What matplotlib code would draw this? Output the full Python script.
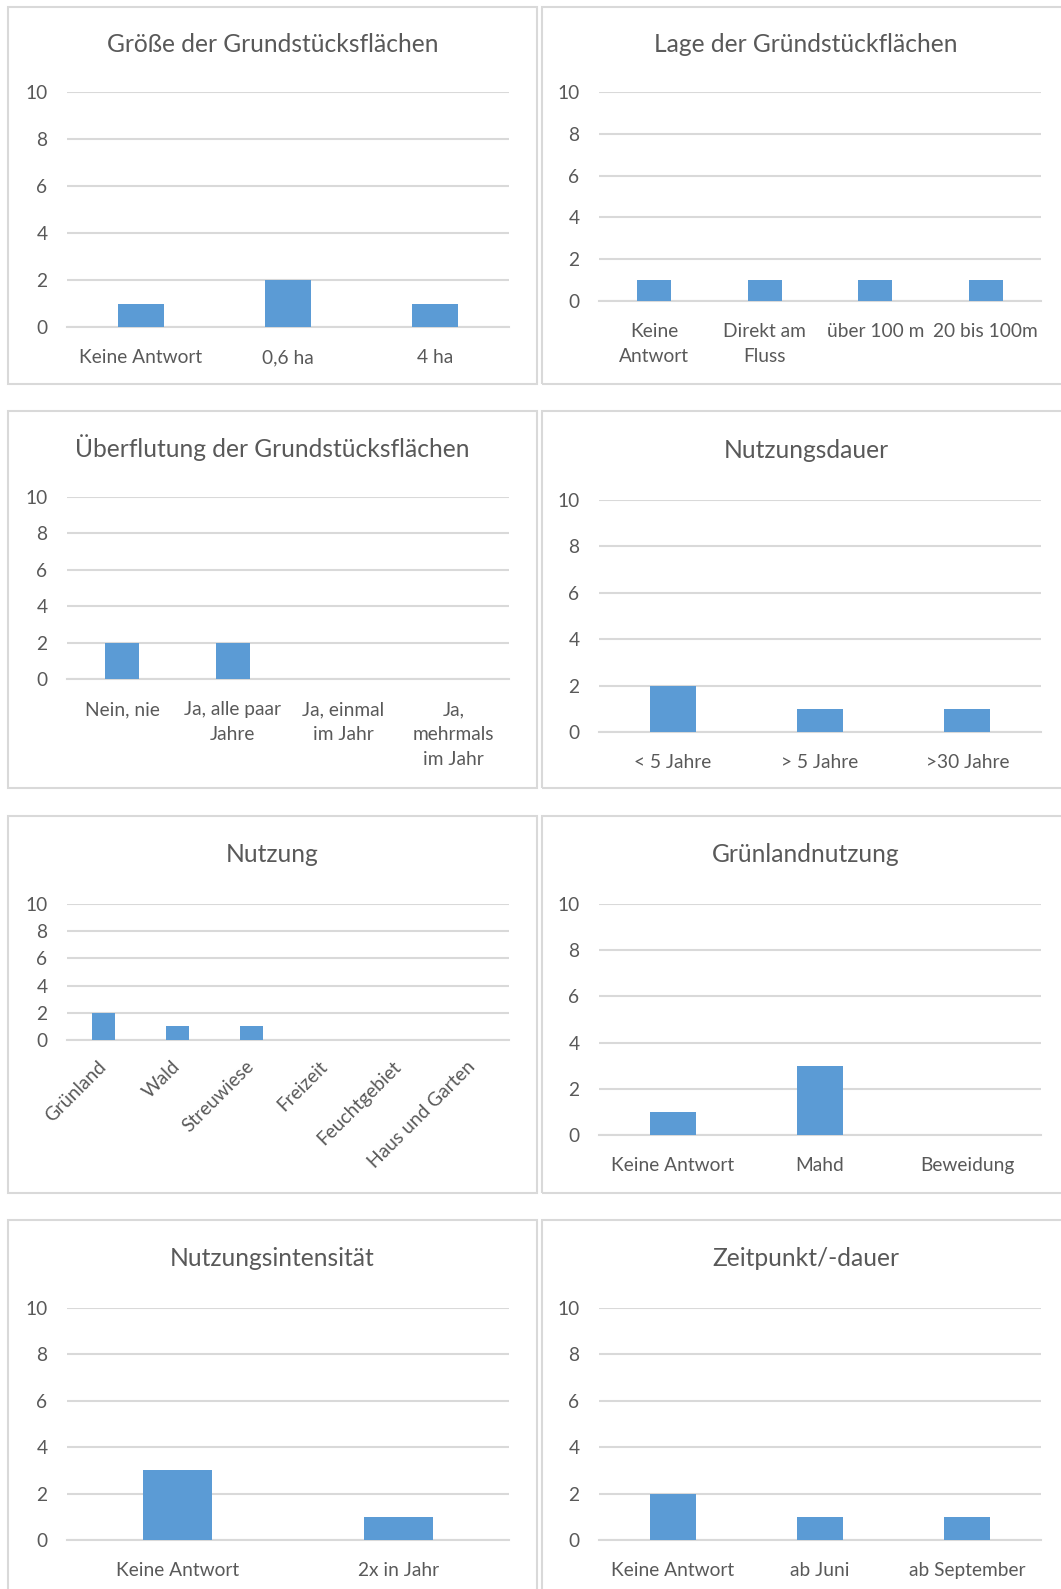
import matplotlib
matplotlib.use("Agg")
import matplotlib.pyplot as plt
from matplotlib.patches import Rectangle

W = 1061
H = 1589

BLUE = "#5B9BD5"
GRID = "#D9D9D9"
TEXT = "#595959"

plt.rcParams['font.family'] = ['Lato', 'DejaVu Sans']

# data
groesse_labels = ["Keine Antwort", "0,6 ha", "4 ha"]
groesse_values = [1, 2, 1]

lage_labels = ["Keine\nAntwort", "Direkt am\nFluss", "über 100 m", "20 bis 100m"]
lage_values = [1, 1, 1, 1]

flut_labels = ["Nein, nie", "Ja, alle paar\nJahre", "Ja, einmal\nim Jahr", "Ja,\nmehrmals\nim Jahr"]
flut_values = [2, 2, 0, 0]

dauer_labels = ["< 5 Jahre", "> 5 Jahre", ">30 Jahre"]
dauer_values = [2, 1, 1]

nutzung_labels = ["Grünland", "Wald", "Streuwiese", "Freizeit", "Feuchtgebiet", "Haus und Garten"]
nutzung_values = [2, 1, 1, 0, 0, 0]

gruen_labels = ["Keine Antwort", "Mahd", "Beweidung"]
gruen_values = [1, 3, 0]

intens_labels = ["Keine Antwort", "2x in Jahr"]
intens_values = [3, 1]

zeit_labels = ["Keine Antwort", "ab Juni", "ab September"]
zeit_values = [2, 1, 1]


fig = plt.figure(figsize=(W / 100, H / 100), dpi=100)


def panel_box(x0, y0, x1, y1):
    r = Rectangle((x0 / W, 1 - y1 / H), (x1 - x0) / W, (y1 - y0) / H,
                  transform=fig.transFigure, fill=False, edgecolor=GRID,
                  linewidth=1.5)
    fig.patches.append(r)


def draw_chart(box, plot, title_y, title, labels, values, rotate=False):
    bx0, by0, bx1, by1 = box
    panel_box(bx0, by0, bx1, by1)
    x0, y_top, x1, y_bot = plot
    ax = fig.add_axes([x0 / W, 1 - y_bot / H, (x1 - x0) / W, (y_bot - y_top) / H])
    pos = list(range(len(labels)))
    ax.bar(pos, values, width=0.31, color=BLUE, zorder=3)
    ax.set_xlim(-0.5, len(labels) - 0.5)
    ax.set_ylim(0, 10)
    ax.set_yticks([0, 2, 4, 6, 8, 10])
    ax.grid(axis='y', color=GRID, linewidth=1.5, zorder=0)
    for s in ["top", "right", "left"]:
        ax.spines[s].set_visible(False)
    ax.spines["bottom"].set_color(GRID)
    ax.spines["bottom"].set_linewidth(1.5)
    ax.tick_params(axis='both', length=0, colors=TEXT, labelsize=13.8)
    ax.tick_params(axis='y', pad=14)
    ax.set_xticks(pos)
    if rotate:
        ax.set_xticklabels(labels, rotation=45, ha='right', va='center',
                           rotation_mode='anchor')
        ax.tick_params(axis='x', pad=17)
    else:
        ax.set_xticklabels(labels, linespacing=1.56)
        ax.tick_params(axis='x', pad=16)
    fig.text((bx0 + bx1) / 2 / W, 1 - title_y / H, title, ha='center',
             va='center', fontsize=17.7, color=TEXT)
    return ax


LEFT = (8, 537)
RIGHT = (542, 1070)

draw_chart((LEFT[0], 7, LEFT[1], 384), (67, 92, 509, 327), 45,
           "Größe der Grundstücksflächen", groesse_labels, groesse_values)
draw_chart((RIGHT[0], 7, RIGHT[1], 384), (599, 92, 1041, 301), 45,
           "Lage der Gründstückflächen", lage_labels, lage_values)
draw_chart((LEFT[0], 411, LEFT[1], 788), (67, 497, 509, 679), 448,
           "Überflutung der Grundstücksflächen", flut_labels, flut_values)
draw_chart((RIGHT[0], 411, RIGHT[1], 788), (599, 500, 1041, 732), 451,
           "Nutzungsdauer", dauer_labels, dauer_values)
draw_chart((LEFT[0], 816, LEFT[1], 1193), (67, 904, 509, 1040), 855,
           "Nutzung", nutzung_labels, nutzung_values, rotate=True)
draw_chart((RIGHT[0], 816, RIGHT[1], 1193), (599, 904, 1041, 1135), 855,
           "Grünlandnutzung", gruen_labels, gruen_values)
draw_chart((LEFT[0], 1220, LEFT[1], 1600), (67, 1308, 509, 1540), 1259,
           "Nutzungsintensität", intens_labels, intens_values)
draw_chart((RIGHT[0], 1220, RIGHT[1], 1600), (599, 1308, 1041, 1540), 1259,
           "Zeitpunkt/-dauer", zeit_labels, zeit_values)

fig.savefig("out.png", dpi=100)
